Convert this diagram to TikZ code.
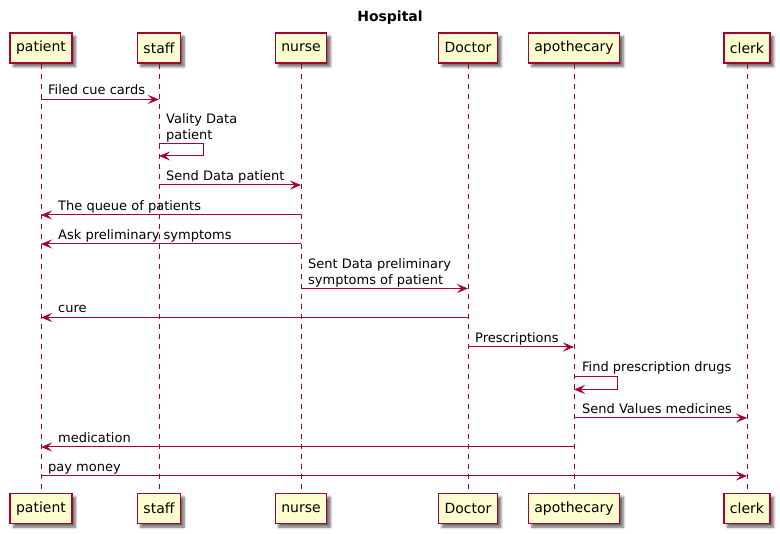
\documentclass[tikz,border=0pt]{standalone}
\usepackage{fontspec}
\setmainfont{DejaVu Sans}
\usetikzlibrary{arrows.meta,shadows.blur}
\definecolor{ln}{HTML}{A80036}
\definecolor{boxfill}{HTML}{FEFECE}
\begin{document}
\begin{tikzpicture}[x=1pt,y=-1pt,
  part/.style={draw=ln, fill=boxfill, line width=1.3pt, minimum height=30pt, inner xsep=6pt, inner ysep=0pt,
    font=\fontsize{14}{16}\selectfont,
    blur shadow={shadow xshift=3.5pt, shadow yshift=-3.5pt, shadow blur steps=6, shadow opacity=60, shadow blur radius=2.5pt}},
  life/.style={draw=ln, line width=1pt, dash pattern=on 5pt off 5pt},
  msg/.style={draw=ln, line width=1pt, -{Stealth[length=11pt,width=9pt,inset=4.5pt]}},
  lbl/.style={anchor=base west, inner sep=0pt, font=\fontsize{13}{15.2}\selectfont},
  ttl/.style={font=\bfseries\fontsize{14}{16}\selectfont, inner sep=0pt}]
\useasboundingbox (0,0) rectangle (780,534);
\node[ttl] (title) at (390,18) {Hospital};
% top participants
\node[part] (patT) at (41,48) {patient};
\node[part] (staT) at (159,48) {staff};
\node[part] (nurT) at (301,48) {nurse};
\node[part] (docT) at (468,48) {Doctor};
\node[part] (apoT) at (574,48) {apothecary};
\node[part] (cleT) at (747,48) {clerk};
% bottom participants
\node[part] (patB) at (41,508.5) {patient};
\node[part] (staB) at (159,508.5) {staff};
\node[part] (nurB) at (301,508.5) {nurse};
\node[part] (docB) at (468,508.5) {Doctor};
\node[part] (apoB) at (574,508.5) {apothecary};
\node[part] (cleB) at (747,508.5) {clerk};
% lifelines
\foreach \p in {pat,sta,nur,doc,apo,cle}{
  \draw[life] (\p T.south) -- (\p B.north);
}
% messages
\draw[msg] (patT |- 0,99.5) -- (staT |- 0,99.5);
\node[lbl] (m1) at (48,95) {Filed cue cards};

\coordinate (s1) at (203,143.5);
\coordinate (s2) at (203,156);
\draw[msg] (staT |- s1) -- (s1) -- (s2) -- (staT |- s2);
\node[lbl] (m2) at (166,124) {\begin{tabular}[t]{@{}l@{}}Vality Data\\patient\end{tabular}};

\draw[msg] (staT |- 0,185) -- (nurT |- 0,185);
\node[lbl] (m3) at (166,180.5) {Send Data patient};

\draw[msg] (nurT |- 0,215) -- (patT |- 0,215);
\node[lbl] (m4) at (58,210.5) {The queue of patients};

\draw[msg] (nurT |- 0,244) -- (patT |- 0,244);
\node[lbl] (m5) at (58,239.5) {Ask preliminary symptoms};

\draw[msg] (nurT |- 0,288.5) -- (docT |- 0,288.5);
\node[lbl] (m6) at (308,269) {\begin{tabular}[t]{@{}l@{}}Sent Data preliminary\\symptoms of patient\end{tabular}};

\draw[msg] (docT |- 0,317.5) -- (patT |- 0,317.5);
\node[lbl] (m7) at (58,313) {cure};

\draw[msg] (docT |- 0,347) -- (apoT |- 0,347);
\node[lbl] (m8) at (475,342.5) {Prescriptions};

\coordinate (s3) at (617,377);
\coordinate (s4) at (617,389.5);
\draw[msg] (apoT |- s3) -- (s3) -- (s4) -- (apoT |- s4);
\node[lbl] (m9) at (582,371.5) {Find prescription drugs};

\draw[msg] (apoT |- 0,418) -- (cleT |- 0,418);
\node[lbl] (m10) at (582,413.5) {Send Values medicines};

\draw[msg] (apoT |- 0,447) -- (patT |- 0,447);
\node[lbl] (m11) at (58,442.5) {medication};

\draw[msg] (patT |- 0,476) -- (cleT |- 0,476);
\node[lbl] (m12) at (48,471.5) {pay money};
\end{tikzpicture}
\end{document}
